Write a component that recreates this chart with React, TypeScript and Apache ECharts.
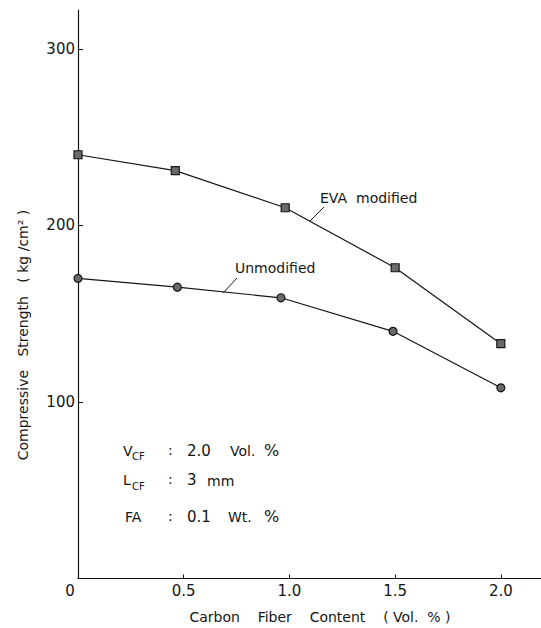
import React, { useEffect, useRef } from "react";
import * as echarts from "echarts";

const fiberContent = [0, 0.46, 0.98, 1.5, 2.0];
const evaModified = [240, 231, 210, 176, 133];
const unmodifiedX = [0, 0.47, 0.96, 1.49, 2.0];
const unmodified = [170, 165, 159, 140, 108];
const xTicks = [0, 0.5, 1.0, 1.5, 2.0];
const yTicks = [100, 200, 300];

const FONT = "DejaVu Sans";
const INK = "#151515";

export default function App() {
  const ref = useRef<HTMLDivElement>(null);
  useEffect(() => {
    if (!ref.current) return;
    const chart = echarts.init(ref.current, null, { renderer: "svg" });
    const txt = (x: number, y: number, s: string, size = 14, align = "left") => ({
      type: "text",
      x,
      y,
      style: {
        text: s,
        fontSize: size,
        fontFamily: FONT,
        fill: INK,
        textAlign: align,
        textVerticalAlign: "middle",
      },
    });
    const ln = (x1: number, y1: number, x2: number, y2: number) => ({
      type: "line",
      shape: { x1, y1, x2, y2 },
      style: { stroke: INK, lineWidth: 1 },
    });
    chart.setOption({
      animation: false,
      backgroundColor: "#ffffff",
      grid: { left: 78, top: 10, right: 0, bottom: 49.5, containLabel: false },
      xAxis: {
        type: "value",
        min: 0,
        max: 2.19,
        axisLine: { lineStyle: { color: INK, width: 1.2 } },
        axisTick: { inside: true, length: 4, customValues: xTicks, lineStyle: { color: INK } },
        axisLabel: {
          customValues: xTicks,
          margin: 5,
          fontSize: 15,
          fontFamily: FONT,
          color: INK,
          formatter: (v: number) => (v === 0 ? "{z|0}" : v.toFixed(1)),
          rich: { z: { fontSize: 15, fontFamily: FONT, color: INK, padding: [0, 16, 0, 0] } },
        },
        splitLine: { show: false },
      },
      yAxis: {
        type: "value",
        min: 0,
        max: 322,
        axisLine: { show: true, lineStyle: { color: INK, width: 1.2 } },
        axisTick: { show: true, inside: true, length: 5, customValues: yTicks, lineStyle: { color: INK } },
        axisLabel: {
          customValues: yTicks,
          margin: 3,
          fontSize: 15,
          fontFamily: FONT,
          color: INK,
        },
        splitLine: { show: false },
      },
      series: [
        {
          name: "EVA modified",
          type: "line",
          data: fiberContent.map((x, i) => [x, evaModified[i]]),
          symbol: "rect",
          symbolSize: 8,
          lineStyle: { color: INK, width: 1.2 },
          itemStyle: { color: "#6a6a6a", borderColor: INK, borderWidth: 1.2 },
          z: 3,
        },
        {
          name: "Unmodified",
          type: "line",
          data: unmodifiedX.map((x, i) => [x, unmodified[i]]),
          symbol: "circle",
          symbolSize: 8,
          lineStyle: { color: INK, width: 1.2 },
          itemStyle: { color: "#6a6a6a", borderColor: INK, borderWidth: 1.2 },
          z: 3,
        },
      ],
      graphic: [
        {
          type: "text",
          x: 23,
          y: 335,
          rotation: Math.PI / 2,
          style: {
            text: "Compressive   Strength   ( kg /cm² )",
            fontSize: 14,
            fontFamily: FONT,
            fill: INK,
            textAlign: "center",
            textVerticalAlign: "middle",
          },
        },
        txt(320, 617, "Carbon    Fiber    Content    ( Vol.  % )", 14, "center"),
        txt(320, 198, "EVA  modified", 14),
        ln(324, 207, 310, 221),
        txt(235, 268, "Unmodified", 14),
        ln(237, 278, 223, 293),
        txt(123, 451, "V", 14),
        txt(132, 456, "CF", 10),
        txt(168, 450, ":", 14),
        txt(187, 451, "2.0", 15),
        txt(230, 451, "Vol.", 14),
        txt(264, 450, "%", 16),
        txt(123, 480, "L", 14),
        txt(132, 486, "CF", 10),
        txt(168, 479, ":", 14),
        txt(187, 480, "3", 15),
        txt(207, 481, "mm", 14),
        txt(125, 517, "FA", 14),
        txt(168, 516, ":", 14),
        txt(187, 517, "0.1", 15),
        txt(228, 517, "Wt.", 14),
        txt(264, 516, "%", 16),
      ],
    });
    return () => chart.dispose();
  }, []);
  return (
    <div
      ref={ref}
      style={{ position: "fixed", left: 0, top: 0, width: 541, height: 628, background: "#fff" }}
    />
  );
}
